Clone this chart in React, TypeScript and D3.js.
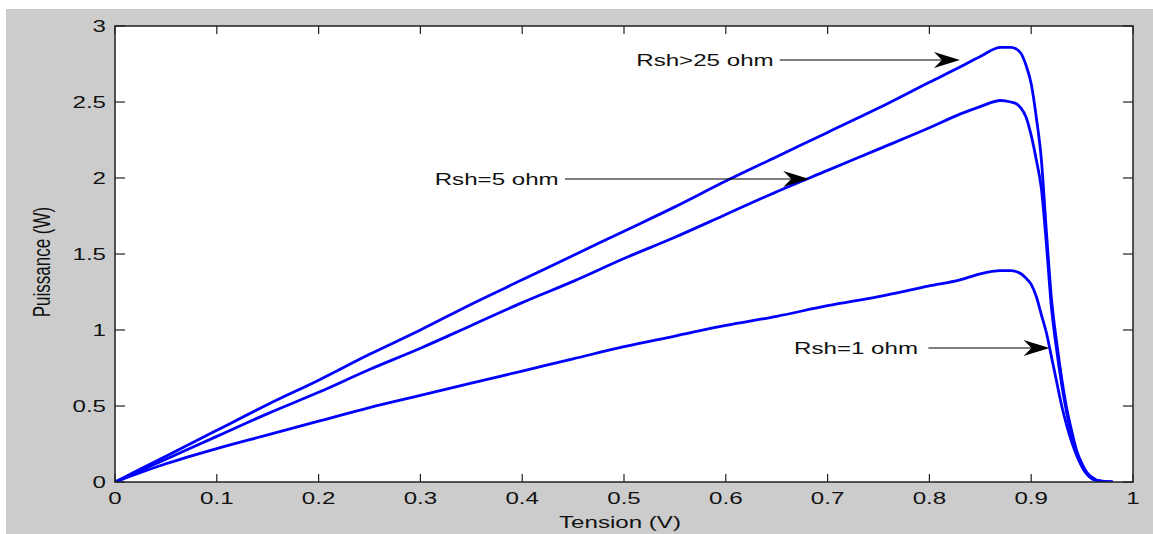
import React from "react";
import * as d3 from "d3";

const voltage = [0, 0.05, 0.1, 0.15, 0.2, 0.25, 0.3, 0.35, 0.4, 0.45, 0.5, 0.55, 0.6, 0.65, 0.7, 0.75, 0.8, 0.83, 0.85, 0.87, 0.88, 0.885, 0.89, 0.895, 0.9, 0.905, 0.91, 0.915, 0.92, 0.925, 0.93, 0.935, 0.94, 0.945, 0.95, 0.955, 0.96, 0.965, 0.97, 0.975, 0.98];

const powerRsh25 = [0, 0.17, 0.34, 0.51, 0.67, 0.84, 1.0, 1.17, 1.33, 1.49, 1.65, 1.81, 1.98, 2.14, 2.3, 2.46, 2.63, 2.73, 2.8, 2.86, 2.86, 2.85, 2.82, 2.74, 2.62, 2.4, 2.12, 1.64, 1.2, 0.92, 0.68, 0.48, 0.33, 0.2, 0.12, 0.06, 0.03, 0.01, 0.004, 0, 0];
const powerRsh5 = [0, 0.15, 0.3, 0.45, 0.59, 0.74, 0.88, 1.03, 1.18, 1.32, 1.47, 1.61, 1.76, 1.91, 2.05, 2.19, 2.33, 2.42, 2.47, 2.51, 2.5, 2.49, 2.46, 2.4, 2.28, 2.12, 1.93, 1.56, 1.14, 0.87, 0.64, 0.45, 0.3, 0.18, 0.1, 0.05, 0.022, 0.008, 0.003, 0, 0];
const powerRsh1 = [0, 0.12, 0.22, 0.31, 0.4, 0.49, 0.57, 0.65, 0.73, 0.81, 0.89, 0.96, 1.03, 1.09, 1.16, 1.22, 1.29, 1.33, 1.37, 1.39, 1.39, 1.385, 1.37, 1.34, 1.3, 1.22, 1.1, 0.98, 0.82, 0.66, 0.5, 0.37, 0.26, 0.17, 0.1, 0.05, 0.02, 0.01, 0.005, 0.002, 0];

const xTicks = [0, 0.1, 0.2, 0.3, 0.4, 0.5, 0.6, 0.7, 0.8, 0.9, 1];
const yTicks = [0, 0.5, 1, 1.5, 2, 2.5, 3];
const xTickLabels = ["0", "0.1", "0.2", "0.3", "0.4", "0.5", "0.6", "0.7", "0.8", "0.9", "1"];
const yTickLabels = ["0", "0.5", "1", "1.5", "2", "2.5", "3"];

const annLabels = ["Rsh>25 ohm", "Rsh=5 ohm", "Rsh=1 ohm"];
const annTextV = [0.512, 0.314, 0.667];
const annLineStartV = [0.653, 0.442, 0.799];
const annTipV = [0.83, 0.682, 0.918];
const annP = [2.776, 1.993, 0.882];

const series = [powerRsh25, powerRsh5, powerRsh1];

export default function App() {
  const W = 1153, H = 534;
  const left = 115, right = 1133, top = 26, bottom = 482;
  const SX = 1.42;
  const FS = 17;
  const x = d3.scaleLinear().domain([0, 1]).range([left, right]);
  const y = d3.scaleLinear().domain([0, 3]).range([bottom, top]);
  const line = d3
    .line<number>()
    .x((_, i) => x(voltage[i]))
    .y((d) => y(d))
    .curve(d3.curveMonotoneX);
  const font = "Arial, 'Liberation Sans', sans-serif";

  const arrowHead = (tx: number, ty: number) => {
    const L = 26, Wd = 8, notch = 18;
    return `M${tx},${ty} L${tx - L},${ty - Wd} L${tx - notch},${ty} L${tx - L},${ty + Wd} Z`;
  };

  const T = (
    px: number,
    py: number,
    s: string,
    anchor: "start" | "middle" | "end" = "start",
    key?: string
  ) => (
    <text
      key={key}
      transform={`translate(${px},${py}) scale(${SX},1)`}
      fontSize={FS}
      textAnchor={anchor}
      fill="#111"
    >
      {s}
    </text>
  );

  return (
    <svg width={W} height={H} style={{ position: "absolute", left: 0, top: 0 }} fontFamily={font}>
      <rect x={0} y={0} width={W} height={H} fill="#ffffff" />
      <rect x={6} y={9} width={W - 6} height={H - 9} fill="#cccccc" />
      <rect x={left} y={top} width={right - left} height={bottom - top} fill="#ffffff" />
      <defs>
        <clipPath id="clip">
          <rect x={left} y={top - 2} width={right - left} height={bottom - top + 2} />
        </clipPath>
      </defs>
      <g clipPath="url(#clip)">
        {series.map((s, i) => (
          <path key={i} d={line(s) || ""} fill="none" stroke="#0000ff" strokeWidth={2.8} strokeLinejoin="round" />
        ))}
      </g>
      {xTicks.map((t, i) => (
        <g key={"xt" + i}>
          <line x1={x(t)} x2={x(t)} y1={bottom} y2={bottom - 8} stroke="#222" strokeWidth={1.2} />
          <line x1={x(t)} x2={x(t)} y1={top} y2={top + 8} stroke="#222" strokeWidth={1.2} />
          {T(x(t), 504, xTickLabels[i], "middle")}
        </g>
      ))}
      {yTicks.map((t, i) => (
        <g key={"yt" + i}>
          <line x1={left} x2={left + 10} y1={y(t)} y2={y(t)} stroke="#222" strokeWidth={1.2} />
          <line x1={right} x2={right - 10} y1={y(t)} y2={y(t)} stroke="#222" strokeWidth={1.2} />
          {T(106, y(t) + 6, yTickLabels[i], "end")}
        </g>
      ))}
      <rect x={left} y={top} width={right - left} height={bottom - top} fill="none" stroke="#222" strokeWidth={1.5} />
      {T(620, 528, "Tension (V)", "middle")}
      <text
        transform={`translate(50,262) rotate(-90) scale(1,${SX})`}
        fontSize={FS}
        textAnchor="middle"
        fill="#111"
      >
        Puissance (W)
      </text>
      {annLabels.map((lab, i) => (
        <g key={"an" + i}>
          {T(x(annTextV[i]), y(annP[i]) + 6, lab, "start")}
          <line x1={x(annLineStartV[i])} x2={x(annTipV[i]) - 10} y1={y(annP[i])} y2={y(annP[i])} stroke="#000" strokeWidth={1.1} />
          <path d={arrowHead(x(annTipV[i]), y(annP[i]))} fill="#000" />
        </g>
      ))}
    </svg>
  );
}
